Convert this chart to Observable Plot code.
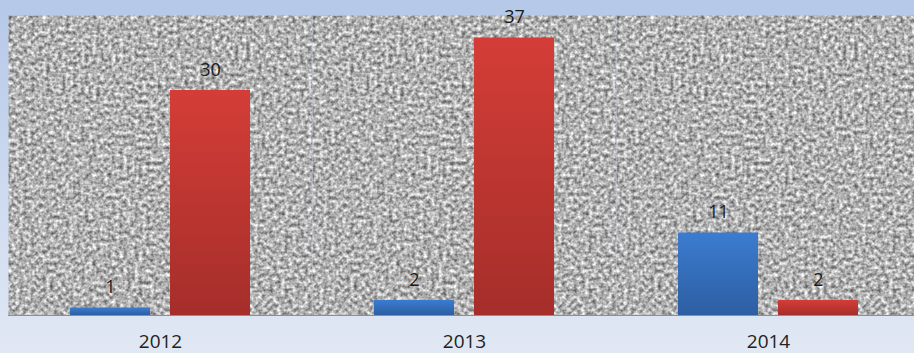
<!DOCTYPE html>
<html>
<head>
<meta charset="utf-8">
<script src="https://cdn.jsdelivr.net/npm/d3@7"></script>
<script src="https://cdn.jsdelivr.net/npm/@observablehq/plot@0.6"></script>
<style>
  html, body { margin: 0; padding: 0; overflow: hidden; }
  #chart {
    width: 914px; height: 353px; overflow: hidden;
    background: linear-gradient(to bottom, #b5c8e8 0%, #c9d7ee 45%, #e1e8f4 100%);
  }
  #chart svg { display: block; }
</style>
</head>
<body>
<div id="chart"></div>
<script>
const years = ["2012", "2013", "2014"];
const seriesNames = ["Series 1", "Series 2"];
const series1Values = [1, 2, 11];
const series2Values = [30, 37, 2];

const data = [];
years.forEach((y, i) => {
  data.push({year: y, series: seriesNames[0], value: series1Values[i]});
  data.push({year: y, series: seriesNames[1], value: series2Values[i]});
});

const chart = Plot.plot({
  width: 914,
  height: 353,
  marginTop: 15,
  marginBottom: 38,
  marginLeft: 8,
  marginRight: 0,
  style: {background: "transparent", fontFamily: "'Open Sans', sans-serif", fontSize: "19px", overflow: "hidden", color: "#222"},
  fx: {domain: years, range: [8, 920], padding: 0, label: null, axis: "bottom", tickSize: 0, tickPadding: 19},
  x: {domain: seriesNames, paddingInner: 0.198, paddingOuter: 0.604, axis: null},
  y: {domain: [0, 40], axis: null},
  color: {domain: seriesNames, range: ["url(#gBlue)", "url(#gRed)"]},
  marks: [
    Plot.frame({fill: "#a9a9a9", stroke: "none"}),
    Plot.barY(data, {fx: "year", x: "series", y: "value", fill: "series"}),
    Plot.text(data, {fx: "year", x: "series", y: "value", text: d => String(d.value), lineAnchor: "bottom", dy: -15, fontSize: 18, fill: "#1a1a1a"}),
    Plot.ruleY([0], {stroke: "#8a8f99", strokeWidth: 1})
  ]
});

const svg = d3.select(chart.tagName.toLowerCase() === "svg" ? chart : chart.querySelector("svg"));
const defs = svg.insert("defs", ":first-child");
const f = defs.append("filter").attr("id", "granite")
  .attr("x", 0).attr("y", 0).attr("width", "100%").attr("height", "100%")
  .attr("color-interpolation-filters", "sRGB");
f.append("feTurbulence").attr("type", "fractalNoise").attr("baseFrequency", 0.26)
  .attr("numOctaves", 2).attr("seed", 11).attr("result", "noise");
f.append("feColorMatrix").attr("in", "noise").attr("type", "matrix")
  .attr("values", "0.95 0 0 0 0.22  0.95 0 0 0 0.22  0.95 0 0 0 0.22  0 0 0 0 1").attr("result", "gray");
f.append("feComposite").attr("in", "gray").attr("in2", "SourceGraphic").attr("operator", "in");

const gr = defs.append("linearGradient").attr("id", "gRed").attr("x1", 0).attr("y1", 0).attr("x2", 0).attr("y2", 1);
gr.append("stop").attr("offset", "0%").attr("stop-color", "#d43d37");
gr.append("stop").attr("offset", "100%").attr("stop-color", "#a52e2a");
const gb = defs.append("linearGradient").attr("id", "gBlue").attr("x1", 0).attr("y1", 0).attr("x2", 0).attr("y2", 1);
gb.append("stop").attr("offset", "0%").attr("stop-color", "#3b7cd0");
gb.append("stop").attr("offset", "100%").attr("stop-color", "#2d5ea2");

svg.selectAll("g[aria-label='frame'] rect, g[aria-label='frame'] > rect").attr("filter", "url(#granite)");
svg.selectAll("g[aria-label^='fx-axis'] text").attr("fill", "#222");

document.getElementById("chart").appendChild(chart);
</script>
</body>
</html>
